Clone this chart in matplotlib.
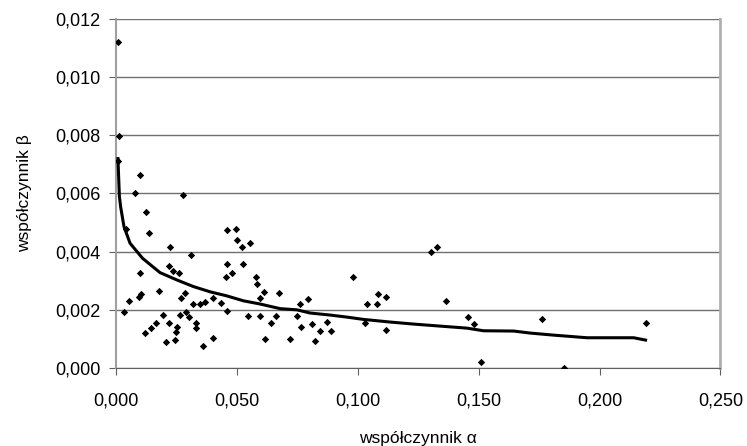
import matplotlib.pyplot as plt
from matplotlib.ticker import FuncFormatter

plt.rcParams['font.family'] = ['Liberation Sans', 'DejaVu Sans']

# scatter data (alpha, beta)
alpha = [0.0007, 0.0014, 0.0008, 0.0033, 0.0041, 0.0054, 0.0079, 0.0099, 0.0099,
         0.0095, 0.0102, 0.0123, 0.0135, 0.0121, 0.0146, 0.0166, 0.0178, 0.0193,
         0.0207, 0.0218, 0.0224, 0.0218, 0.0235, 0.0243, 0.0248, 0.0251, 0.0260,
         0.0265, 0.0268, 0.0279, 0.0287, 0.0290, 0.0301, 0.0312, 0.0320, 0.0330,
         0.0330, 0.0348, 0.0359, 0.0367, 0.0403, 0.0403, 0.0433, 0.0457, 0.0454,
         0.0458, 0.0458, 0.0479, 0.0495, 0.0500, 0.0523, 0.0526, 0.0545, 0.0555,
         0.0577, 0.0582, 0.0596, 0.0596, 0.0613, 0.0618, 0.0640, 0.0662, 0.0676,
         0.0720, 0.0750, 0.0759, 0.0764, 0.0793, 0.0810, 0.0821, 0.0842, 0.0873,
         0.0889, 0.0981, 0.1031, 0.1040, 0.1079, 0.1082, 0.1118, 0.1118, 0.1302,
         0.1329, 0.1363, 0.1457, 0.1479, 0.1511, 0.1763, 0.1852, 0.2192]
beta = [0.01122, 0.00798, 0.00713, 0.00191, 0.00479, 0.00230, 0.00603, 0.00664, 0.00326,
        0.00245, 0.00253, 0.00535, 0.00463, 0.00119, 0.00136, 0.00154, 0.00266, 0.00182,
        0.00090, 0.00154, 0.00415, 0.00351, 0.00335, 0.00096, 0.00123, 0.00142, 0.00326,
        0.00181, 0.00240, 0.00595, 0.00259, 0.00193, 0.00176, 0.00387, 0.00220, 0.00154,
        0.00137, 0.00220, 0.00077, 0.00228, 0.00104, 0.00240, 0.00222, 0.00475, 0.00312,
        0.00358, 0.00197, 0.00328, 0.00477, 0.00440, 0.00415, 0.00358, 0.00179, 0.00429,
        0.00312, 0.00289, 0.00242, 0.00179, 0.00262, 0.00099, 0.00156, 0.00179, 0.00257,
        0.00099, 0.00179, 0.00220, 0.00140, 0.00236, 0.00151, 0.00093, 0.00128, 0.00159,
        0.00128, 0.00314, 0.00154, 0.00220, 0.00220, 0.00254, 0.00243, 0.00131, 0.00400,
        0.00415, 0.00230, 0.00174, 0.00150, 0.00022, 0.00168, 0.00000, 0.00156]

# trend line
trend_x = [0.0008, 0.0014, 0.0019, 0.0033, 0.0058, 0.0110, 0.0182, 0.0251, 0.0320,
           0.0389, 0.0458, 0.0527, 0.0596, 0.0679, 0.0748, 0.0803, 0.0886, 0.0955,
           0.1024, 0.1134, 0.1231, 0.1341, 0.1452, 0.1520, 0.1645, 0.1714, 0.1810,
           0.1948, 0.2141, 0.2190]
trend_y = [0.00720, 0.00590, 0.00555, 0.00486, 0.00429, 0.00377, 0.00328, 0.00303, 0.00280,
           0.00262, 0.00248, 0.00231, 0.00220, 0.00204, 0.00200, 0.00189, 0.00182, 0.00175,
           0.00167, 0.00158, 0.00151, 0.00144, 0.00137, 0.00128, 0.00127, 0.00120, 0.00113,
           0.00104, 0.00104, 0.00096]

x_ticks = [0.0, 0.05, 0.10, 0.15, 0.20, 0.25]
y_ticks = [0.0, 0.002, 0.004, 0.006, 0.008, 0.010, 0.012]

fig = plt.figure(figsize=(7.47, 4.46), dpi=100)
ax = fig.add_axes([0.1553, 0.1749, 0.8092, 0.7825])

ax.scatter(alpha, beta, marker='D', s=14, color='black', zorder=3, linewidths=0)
ax.plot(trend_x, trend_y, color='black', linewidth=2.2, zorder=4)

ax.set_xlim(0, 0.25)
ax.set_ylim(0, 0.012)
ax.set_xticks(x_ticks)
ax.set_yticks(y_ticks)
comma = FuncFormatter(lambda v, p: f"{v:.3f}".replace('.', ','))
ax.xaxis.set_major_formatter(comma)
ax.yaxis.set_major_formatter(comma)

ax.grid(axis='y', color='#707070', linewidth=1.0, zorder=0)
ax.set_axisbelow(True)
ax.spines['top'].set_visible(False)
ax.spines['left'].set_color('#a0a0a0')
ax.spines['left'].set_linewidth(1.5)
ax.spines['right'].set_color('#b0b0b0')
ax.spines['right'].set_linewidth(2)
ax.spines['bottom'].set_color('#606060')

ax.tick_params(axis='x', direction='out', length=5, pad=13, labelsize=13, color='#606060')
ax.tick_params(axis='y', direction='out', length=5, pad=6, labelsize=13, color='#606060')

ax.set_xlabel('współczynnik α', fontsize=12.5, labelpad=15)
ax.set_ylabel('współczynnik β', fontsize=12.5, labelpad=17)

fig.savefig('out.png', dpi=100)
